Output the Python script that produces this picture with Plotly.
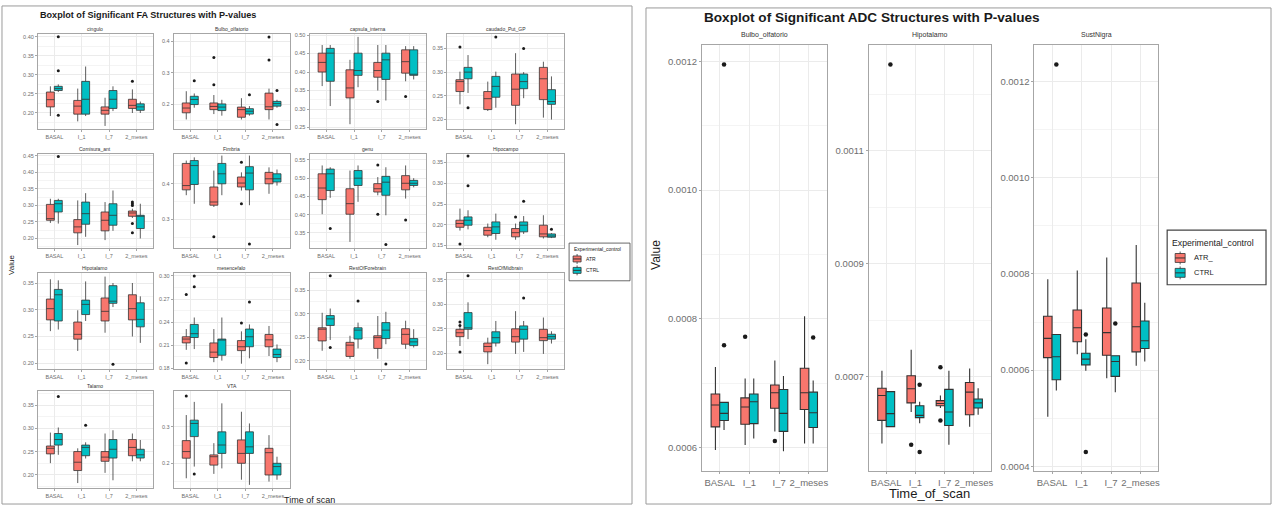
import plotly.graph_objects as go

W, H = 1275, 508

TIMES = ["BASAL", "I_1", "I_7", "2_meses"]
GROUPS = ["ATR", "CTRL"]

# ---------------- FA data (one row per structure, one value per time point) ----------------
FA_STRUCTS = ["cingulo", "Bulbo_olfatorio", "capsula_interna", "caudado_Put_GP",
              "Comisura_ant", "Fimbria", "genu", "Hipocampo",
              "Hipotalamo", "mesencefalo", "RestOfForebrain", "RestOfMidbrain",
              "Talamo", "VTA"]

FA_ATR_LO = [[0.192, 0.178, 0.166, 0.200], [0.153, 0.170, 0.153, 0.153], [0.362, 0.259, 0.350, 0.375],
             [0.232, 0.218, 0.190, 0.204], [0.247, 0.180, 0.195, 0.262], [0.368, 0.335, 0.381, 0.372],
             [0.401, 0.325, 0.453, 0.444], [0.186, 0.170, 0.164, 0.167], [0.260, 0.223, 0.257, 0.250],
             [0.204, 0.188, 0.186, 0.196], [0.221, 0.204, 0.204, 0.225], [0.215, 0.178, 0.199, 0.199],
             [0.225, 0.182, 0.204, 0.229], [0.159, 0.171, 0.155, 0.150]]
FA_ATR_Q1 = [[0.216, 0.197, 0.197, 0.212], [0.174, 0.184, 0.160, 0.184], [0.400, 0.330, 0.386, 0.397],
             [0.259, 0.221, 0.230, 0.242], [0.255, 0.217, 0.223, 0.267], [0.383, 0.340, 0.391, 0.400],
             [0.441, 0.401, 0.462, 0.468], [0.194, 0.175, 0.171, 0.171], [0.281, 0.245, 0.279, 0.281],
             [0.213, 0.194, 0.203, 0.208], [0.242, 0.209, 0.226, 0.235], [0.234, 0.203, 0.223, 0.226],
             [0.245, 0.209, 0.229, 0.241], [0.214, 0.195, 0.200, 0.168]]
FA_ATR_MED = [[0.235, 0.218, 0.207, 0.220], [0.189, 0.194, 0.184, 0.193], [0.426, 0.357, 0.404, 0.428],
              [0.280, 0.244, 0.264, 0.286], [0.260, 0.235, 0.255, 0.277], [0.395, 0.349, 0.402, 0.414],
              [0.473, 0.430, 0.471, 0.486], [0.203, 0.186, 0.181, 0.178], [0.302, 0.254, 0.297, 0.302],
              [0.218, 0.201, 0.208, 0.217], [0.267, 0.233, 0.249, 0.256], [0.242, 0.214, 0.234, 0.232],
              [0.257, 0.227, 0.238, 0.259], [0.232, 0.218, 0.227, 0.229]]
FA_ATR_Q3 = [[0.255, 0.233, 0.216, 0.236], [0.205, 0.205, 0.192, 0.236], [0.451, 0.406, 0.426, 0.460],
             [0.284, 0.259, 0.296, 0.310], [0.303, 0.257, 0.280, 0.283], [0.457, 0.391, 0.419, 0.432],
             [0.512, 0.471, 0.485, 0.507], [0.211, 0.194, 0.191, 0.199], [0.320, 0.277, 0.322, 0.328],
             [0.221, 0.213, 0.216, 0.224], [0.270, 0.239, 0.253, 0.268], [0.249, 0.221, 0.250, 0.249],
             [0.262, 0.250, 0.250, 0.276], [0.262, 0.223, 0.264, 0.241]]
FA_ATR_HI = [[0.270, 0.264, 0.240, 0.262], [0.242, 0.230, 0.220, 0.250], [0.473, 0.433, 0.473, 0.470],
             [0.301, 0.280, 0.340, 0.322], [0.320, 0.315, 0.310, 0.290], [0.465, 0.437, 0.432, 0.446],
             [0.535, 0.521, 0.503, 0.535], [0.239, 0.203, 0.203, 0.223], [0.357, 0.299, 0.362, 0.350],
             [0.231, 0.231, 0.228, 0.235], [0.302, 0.253, 0.295, 0.285], [0.259, 0.232, 0.286, 0.273],
             [0.291, 0.257, 0.289, 0.289], [0.332, 0.255, 0.341, 0.277]]

FA_CTRL_LO = [[0.255, 0.192, 0.205, 0.200], [0.190, 0.165, 0.165, 0.190], [0.308, 0.359, 0.323, 0.380],
              [0.256, 0.225, 0.245, 0.200], [0.245, 0.205, 0.223, 0.200], [0.344, 0.368, 0.340, 0.395],
              [0.446, 0.435, 0.398, 0.475], [0.189, 0.164, 0.178, 0.168], [0.263, 0.279, 0.305, 0.238],
              [0.205, 0.190, 0.193, 0.188], [0.244, 0.226, 0.235, 0.228], [0.229, 0.214, 0.203, 0.220],
              [0.243, 0.235, 0.188, 0.229], [0.191, 0.186, 0.141, 0.155]]
FA_CTRL_Q1 = [[0.259, 0.197, 0.212, 0.207], [0.200, 0.181, 0.170, 0.195], [0.375, 0.391, 0.380, 0.391],
              [0.286, 0.247, 0.265, 0.232], [0.280, 0.243, 0.240, 0.230], [0.398, 0.400, 0.383, 0.405],
              [0.466, 0.480, 0.453, 0.480], [0.199, 0.179, 0.183, 0.170], [0.279, 0.291, 0.312, 0.268],
              [0.220, 0.197, 0.208, 0.194], [0.275, 0.246, 0.247, 0.232], [0.249, 0.221, 0.229, 0.229],
              [0.264, 0.241, 0.236, 0.236], [0.273, 0.227, 0.227, 0.168]]
FA_CTRL_MED = [[0.264, 0.236, 0.236, 0.216], [0.216, 0.192, 0.179, 0.203], [0.451, 0.404, 0.433, 0.394],
               [0.300, 0.270, 0.280, 0.238], [0.305, 0.275, 0.270, 0.267], [0.451, 0.428, 0.430, 0.414],
               [0.512, 0.500, 0.489, 0.486], [0.211, 0.195, 0.199, 0.173], [0.328, 0.310, 0.316, 0.282],
               [0.225, 0.217, 0.221, 0.198], [0.289, 0.265, 0.265, 0.240], [0.252, 0.232, 0.249, 0.234],
               [0.276, 0.259, 0.255, 0.243], [0.309, 0.250, 0.245, 0.191]]
FA_CTRL_Q3 = [[0.270, 0.283, 0.259, 0.224], [0.226, 0.202, 0.187, 0.210], [0.464, 0.451, 0.451, 0.460],
              [0.310, 0.291, 0.296, 0.263], [0.315, 0.310, 0.305, 0.270], [0.465, 0.457, 0.448, 0.428],
              [0.525, 0.521, 0.505, 0.494], [0.219, 0.207, 0.207, 0.178], [0.338, 0.318, 0.345, 0.313],
              [0.237, 0.218, 0.231, 0.205], [0.296, 0.270, 0.281, 0.247], [0.283, 0.244, 0.256, 0.239],
              [0.289, 0.264, 0.276, 0.255], [0.318, 0.286, 0.286, 0.200]]
FA_CTRL_HI = [[0.275, 0.322, 0.270, 0.230], [0.235, 0.215, 0.195, 0.215], [0.473, 0.495, 0.473, 0.470],
              [0.336, 0.301, 0.300, 0.291], [0.320, 0.337, 0.345, 0.305], [0.474, 0.479, 0.479, 0.440],
              [0.530, 0.535, 0.530, 0.500], [0.235, 0.227, 0.221, 0.180], [0.355, 0.353, 0.350, 0.325],
              [0.246, 0.246, 0.237, 0.211], [0.311, 0.281, 0.304, 0.267], [0.304, 0.266, 0.266, 0.245],
              [0.302, 0.270, 0.296, 0.275], [0.368, 0.364, 0.309, 0.218]]

FA_ATR_OUT = [[("2_meses", 0.283)],
              [("I_1", 0.348), ("I_1", 0.262), ("2_meses", 0.413), ("2_meses", 0.340)],
              [("I_7", 0.320), ("2_meses", 0.334)],
              [("BASAL", 0.353)],
              [("2_meses", 0.310), ("2_meses", 0.305), ("2_meses", 0.300), ("2_meses", 0.245), ("2_meses", 0.217)],
              [("I_1", 0.252), ("I_7", 0.460), ("I_7", 0.344)],
              [("I_7", 0.536), ("I_7", 0.401), ("2_meses", 0.385)],
              [("BASAL", 0.154), ("I_7", 0.219)],
              [],
              [("BASAL", 0.276), ("BASAL", 0.187), ("I_7", 0.239)],
              [],
              [("BASAL", 0.264), ("BASAL", 0.257), ("BASAL", 0.203)],
              [],
              [("BASAL", 0.384)]]
FA_CTRL_OUT = [[("BASAL", 0.400), ("BASAL", 0.311), ("BASAL", 0.194)],
               [("BASAL", 0.275), ("I_7", 0.231), ("2_meses", 0.244), ("2_meses", 0.137)],
               [],
               [("BASAL", 0.225), ("I_1", 0.374), ("I_7", 0.350)],
               [("BASAL", 0.448)],
               [("I_7", 0.2315)],
               [("BASAL", 0.362), ("I_7", 0.318)],
               [("BASAL", 0.366), ("BASAL", 0.294), ("I_7", 0.257), ("2_meses", 0.189)],
               [("I_7", 0.198)],
               [("BASAL", 0.300), ("BASAL", 0.286), ("I_7", 0.266)],
               [("BASAL", 0.381), ("BASAL", 0.228), ("I_1", 0.327), ("I_7", 0.193)],
               [("BASAL", 0.358), ("I_7", 0.313)],
               [("BASAL", 0.369), ("I_1", 0.307)],
               [("BASAL", 0.171)]]

FA_YRANGE = [[0.158, 0.408], [0.123, 0.423], [0.246, 0.5035], [0.18, 0.381], [0.171, 0.456],
             [0.22, 0.484], [0.308, 0.567], [0.144, 0.371], [0.189, 0.369], [0.179, 0.304],
             [0.182, 0.387], [0.168, 0.364], [0.171, 0.381], [0.132, 0.398]]
FA_DTICK = [0.05, 0.1, 0.05, 0.05, 0.05, 0.1, 0.05, 0.05, 0.05, 0.03, 0.05, 0.05, 0.05, 0.1]

# ---------------- ADC data ----------------
ADC_STRUCTS = ["Bulbo_olfatorio", "Hipotalamo", "SustNigra"]
ADC_ATR_LO = [[0.000596, 0.000604, 0.000625, 0.000606], [0.000582, 0.000638, 0.000645, 0.000612],
              [0.000503, 0.000633, 0.000583, 0.000609]]
ADC_ATR_Q1 = [[0.000632, 0.000636, 0.000661, 0.000659], [0.000623, 0.000654, 0.000649, 0.000633],
              [0.000626, 0.000659, 0.000631, 0.000638]]
ADC_ATR_MED = [[0.000666, 0.000663, 0.000685, 0.000685], [0.000667, 0.000679, 0.000653, 0.000673],
               [0.000666, 0.000688, 0.000678, 0.000690]]
ADC_ATR_Q3 = [[0.000683, 0.000677, 0.000697, 0.000723], [0.000680, 0.000702, 0.000658, 0.000690],
              [0.000712, 0.000725, 0.000729, 0.000781]]
ADC_ATR_HI = [[0.000725, 0.000707, 0.000735, 0.000804], [0.000711, 0.000748, 0.000667, 0.000715],
              [0.000789, 0.000807, 0.000834, 0.000860]]
ADC_CTRL_LO = [[0.000627, 0.000614, 0.000594, 0.000606], [0.000612, 0.000618, 0.000580, 0.000633],
               [0.000558, 0.000599, 0.000554, 0.000618]]
ADC_CTRL_Q1 = [[0.000642, 0.000637, 0.000625, 0.000631], [0.000612, 0.000628, 0.000614, 0.000645],
               [0.000580, 0.000611, 0.000587, 0.000645]]
ADC_CTRL_MED = [[0.000653, 0.000671, 0.000653, 0.000654], [0.000635, 0.000632, 0.000638, 0.000654],
                [0.000628, 0.000623, 0.000618, 0.000661]]
ADC_CTRL_Q3 = [[0.000670, 0.000683, 0.000690, 0.000686], [0.000674, 0.000649, 0.000678, 0.000661],
               [0.000674, 0.000635, 0.000630, 0.000702]]
ADC_CTRL_HI = [[0.000670, 0.000707, 0.000711, 0.000704], [0.000674, 0.000656, 0.000711, 0.000680],
               [0.000674, 0.000664, 0.000630, 0.000740]]
ADC_ATR_OUT = [[("I_1", 0.000772), ("I_7", 0.000610)],
               [("I_1", 0.000580), ("I_7", 0.000717), ("I_7", 0.000623)],
               []]
ADC_CTRL_OUT = [[("BASAL", 0.001195), ("BASAL", 0.000759), ("2_meses", 0.000771)],
                [("BASAL", 0.001253), ("I_1", 0.000686), ("I_1", 0.000567)],
                [("BASAL", 0.001235), ("I_1", 0.000674), ("I_1", 0.000430), ("I_7", 0.000697)]]
ADC_YRANGE = [[0.000563, 0.001226], [0.000533, 0.001288], [0.00039, 0.001276]]
ADC_TICK0 = [0.0, 0.0001, 0.0]
ADC_DTICK = [0.0002, 0.0002, 0.0002]

# ---------------- style ----------------
FONT = "Liberation Sans, Arial, sans-serif"
COLORS = {"ATR": "#F8766D", "CTRL": "#00BFC4"}
BOX_LINE = "#333333"
GRID = "#ebebeb"
MINOR = "#f4f4f4"
BORDER = "#a6a6a6"
TICK_COL = "#6e6e6e"
BOX_GAP = 0.42

# panel pixel boxes
FA_COLS = [(38, 153), (174, 290), (310, 427), (448, 565)]
FA_ROWS = [(32, 128), (153, 248), (273, 370), (392, 490)]
ADC_COLS = [(703, 828), (870, 993), (1036, 1160)]
ADC_ROW = (43, 473)

fig = go.Figure()
layout = {}
annotations = []
shapes = []


def pxx(v):
    return v / W


def pxy(v):
    return 1 - v / H


def add_panel(idx, box, yrange, tick0, dtick, tfmt, tick_size, strip, strip_size, strip_off,
              stats, outs, msize, lw):
    x0, x1, y0, y1 = box
    xn = "xaxis" if idx == 1 else f"xaxis{idx}"
    yn = "yaxis" if idx == 1 else f"yaxis{idx}"
    xr = "x" if idx == 1 else f"x{idx}"
    yr = "y" if idx == 1 else f"y{idx}"
    layout[xn] = dict(domain=[pxx(x0), pxx(x1)], anchor=yr, type="category",
                      categoryorder="array", categoryarray=TIMES, range=[-0.6, 3.6],
                      showgrid=True, gridcolor=GRID, gridwidth=1, zeroline=False,
                      showline=True, mirror=True, linecolor=BORDER, linewidth=1,
                      ticks="outside", ticklen=2, tickcolor=BORDER, tickangle=0,
                      tickfont=dict(size=tick_size, color=TICK_COL, family=FONT))
    layout[yn] = dict(domain=[pxy(y1), pxy(y0)], anchor=xr, range=yrange,
                      tickmode="linear", tick0=tick0, dtick=dtick, tickformat=tfmt,
                      showgrid=True, gridcolor=GRID, gridwidth=1, zeroline=False,
                      minor=dict(tick0=tick0, dtick=dtick / 2, showgrid=True, gridcolor=MINOR),
                      showline=True, mirror=True, linecolor=BORDER, linewidth=1,
                      ticks="outside", ticklen=2, tickcolor=BORDER,
                      tickfont=dict(size=tick_size, color=TICK_COL, family=FONT))
    for g in GROUPS:
        lo, q1, med, q3, hi = stats[g]
        fig.add_trace(go.Box(x=TIMES, lowerfence=lo, q1=q1, median=med, q3=q3, upperfence=hi,
                             xaxis=xr, yaxis=yr, fillcolor=COLORS[g],
                             line=dict(color=BOX_LINE, width=lw), whiskerwidth=0,
                             offsetgroup=g, alignmentgroup="g", name=g,
                             showlegend=False, hoverinfo="skip"))
        xs = list(TIMES) + [t for t, v in outs[g]]
        ys = [None] * len(TIMES) + [v for t, v in outs[g]]
        fig.add_trace(go.Scatter(x=xs, y=ys, mode="markers", orientation="v",
                                 offsetgroup=g, alignmentgroup="g",
                                 marker=dict(color="#1a1a1a", size=msize),
                                 xaxis=xr, yaxis=yr, showlegend=False, hoverinfo="skip",
                                 cliponaxis=False))
    annotations.append(dict(text=strip, x=pxx((x0 + x1) / 2), y=pxy(y0 - strip_off),
                            xref="paper", yref="paper", showarrow=False, xanchor="center",
                            yanchor="middle", font=dict(size=strip_size, color="#333333", family=FONT)))


idx = 0
for i, name in enumerate(FA_STRUCTS):
    idx += 1
    c0, c1 = FA_COLS[i % 4]
    r0, r1 = FA_ROWS[i // 4]
    stats = {"ATR": (FA_ATR_LO[i], FA_ATR_Q1[i], FA_ATR_MED[i], FA_ATR_Q3[i], FA_ATR_HI[i]),
             "CTRL": (FA_CTRL_LO[i], FA_CTRL_Q1[i], FA_CTRL_MED[i], FA_CTRL_Q3[i], FA_CTRL_HI[i])}
    outs = {"ATR": FA_ATR_OUT[i], "CTRL": FA_CTRL_OUT[i]}
    fmt = ".1f" if FA_DTICK[i] >= 0.1 else ".2f"
    add_panel(idx, (c0, c1, r0, r1), FA_YRANGE[i], 0, FA_DTICK[i], fmt, 5.5, name, 5, 4.5,
              stats, outs, 3, 0.8)

for i, name in enumerate(ADC_STRUCTS):
    idx += 1
    c0, c1 = ADC_COLS[i]
    r0, r1 = ADC_ROW
    stats = {"ATR": (ADC_ATR_LO[i], ADC_ATR_Q1[i], ADC_ATR_MED[i], ADC_ATR_Q3[i], ADC_ATR_HI[i]),
             "CTRL": (ADC_CTRL_LO[i], ADC_CTRL_Q1[i], ADC_CTRL_MED[i], ADC_CTRL_Q3[i], ADC_CTRL_HI[i])}
    outs = {"ATR": ADC_ATR_OUT[i], "CTRL": ADC_CTRL_OUT[i]}
    add_panel(idx, (c0, c1, r0, r1), ADC_YRANGE[i], ADC_TICK0[i], ADC_DTICK[i], ".4f", 9.5, name, 7, 10,
              stats, outs, 4.5, 1.1)


def text(t, x, y, size, color="#1a1a1a", bold=False, anchor="left", angle=0):
    annotations.append(dict(text=f"<b>{t}</b>" if bold else t, x=pxx(x), y=pxy(y), xref="paper",
                            yref="paper", showarrow=False, xanchor=anchor, yanchor="middle",
                            textangle=angle, font=dict(size=size, color=color, family=FONT)))


def rect(x0, y0, x1, y1, line="#999999", fill="rgba(0,0,0,0)", width=1):
    shapes.append(dict(type="rect", xref="paper", yref="paper", x0=pxx(x0), x1=pxx(x1),
                       y0=pxy(y1), y1=pxy(y0), line=dict(color=line, width=width), fillcolor=fill,
                       layer="below"))


def hline(x0, x1, y, color, width):
    shapes.append(dict(type="line", xref="paper", yref="paper", x0=pxx(x0), x1=pxx(x1),
                       y0=pxy(y), y1=pxy(y), line=dict(color=color, width=width)))


# screenshot frames
rect(2, 4, 633, 506, line="#9a9a9a", width=1)
rect(647, 6, 1273, 506, line="#9a9a9a", width=1)

# titles
text("Boxplot of Significant FA Structures with P-values", 38, 13, 9.1, bold=True)
text("Boxplot of Significant ADC Structures with P-values", 703, 16, 13.6, bold=True)

# axis titles
text("Value", 12, 265, 8, anchor="center", angle=-90)
text("Time of scan", 310, 502, 9, anchor="center")
text("Value", 657, 255, 12, anchor="center", angle=-90)
text("Time_of_scan", 931, 495, 13, anchor="center")


# legends
def legend(x0, y0, x1, y1, title, labels, tsize, lsize, key_w, key_h, key_x, key_ys, lab_x, title_x, title_y, bw):
    rect(x0, y0, x1, y1, line="#444444", width=bw)
    text(title, title_x, title_y, tsize, color="#222222")
    for g, ky, lab in zip(GROUPS, key_ys, labels):
        shapes.append(dict(type="line", xref="paper", yref="paper", x0=pxx(key_x + key_w / 2),
                           x1=pxx(key_x + key_w / 2), y0=pxy(ky + key_h / 2 + 1.5),
                           y1=pxy(ky - key_h / 2 - 1.5), line=dict(color=BOX_LINE, width=0.8)))
        shapes.append(dict(type="rect", xref="paper", yref="paper", x0=pxx(key_x), x1=pxx(key_x + key_w),
                           y0=pxy(ky + key_h / 2 - 0.5), y1=pxy(ky - key_h / 2 + 0.5),
                           line=dict(color=BOX_LINE, width=0.8), fillcolor=COLORS[g]))
        hline(key_x, key_x + key_w, ky, BOX_LINE, 1)
        text(lab, lab_x, ky, lsize, color="#222222")


legend(570, 243, 631, 281, "Experimental_control", ["ATR", "CTRL"], 5, 5, 8, 7, 574, [259, 270.5], 585,
       573, 249, 0.8)
legend(1169, 230, 1268, 285, "Experimental_control", ["ATR_", "CTRL"], 8.7, 7.5, 10, 10, 1177, [258, 273], 1194,
       1172, 243, 1.2)

fig.update_layout(**layout)
fig.update_layout(width=W, height=H, margin=dict(l=0, r=0, t=0, b=0),
                  paper_bgcolor="white", plot_bgcolor="white", showlegend=False,
                  boxmode="group", boxgap=BOX_GAP, boxgroupgap=0,
                  scattermode="group", scattergap=BOX_GAP,
                  annotations=annotations, shapes=shapes,
                  font=dict(family=FONT))

fig.write_html("out.html", config={"displayModeBar": False, "staticPlot": True},
               post_script="document.body.style.margin='0';document.body.style.overflow='hidden';")
